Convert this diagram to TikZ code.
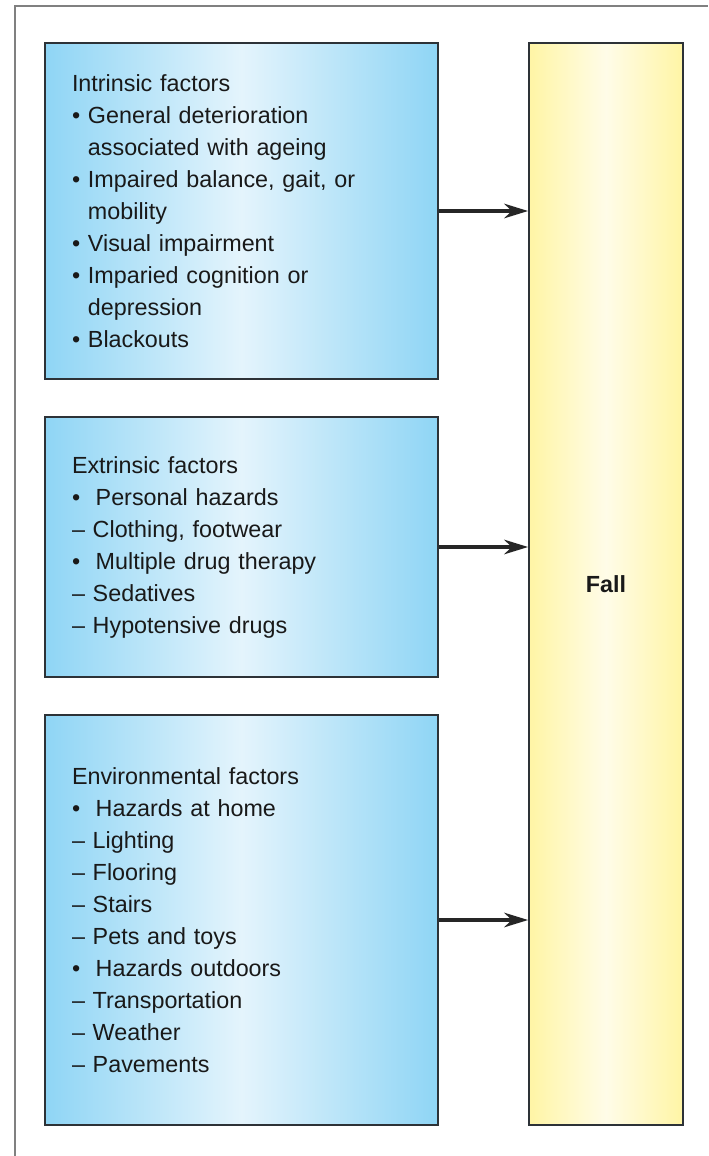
\documentclass[tikz,border=0pt]{standalone}
\usepackage{fontspec}
\setmainfont{Liberation Sans}
\usetikzlibrary{arrows.meta}
\definecolor{skyedge}{RGB}{143,213,245}
\definecolor{skymid}{RGB}{228,244,252}
\definecolor{sunedge}{RGB}{255,245,165}
\definecolor{sunmid}{RGB}{255,252,232}
\definecolor{boxline}{RGB}{45,50,55}

\begin{document}
\begin{tikzpicture}[x=0.75pt,y=-0.75pt]
    \tikzstyle{every node}=[font={\fontsize{17.5}{24}\selectfont}, text=black!90]
    \tikzstyle{factor}=[draw=boxline, line width=1.4pt, left color=skyedge, right color=skyedge, middle color=skymid,
        inner xsep=20.25pt, text width=254.25pt, minimum width=294.75pt, align=left]
    \useasboundingbox (0,0) rectangle (708,1156);
    \draw[gray, line width=1.1pt] (15,1156) -- (15,6) -- (708,6);

    \node[factor, minimum height=252pt] (intrinsic) at (241.5,211) {Intrinsic factors\\
        • General deterioration\\
        \phantom{•} associated with ageing\\
        • Impaired balance, gait, or\\
        \phantom{•} mobility\\
        • Visual impairment\\
        • Imparied cognition or\\
        \phantom{•} depression\\
        • Blackouts};
    \node[factor, minimum height=195pt] (extrinsic) at (241.5,547) {Extrinsic factors\\
        •~ Personal hazards\\
        – Clothing, footwear\\
        •~ Multiple drug therapy\\
        – Sedatives\\
        – Hypotensive drugs};
    \node[factor, minimum height=307.5pt] (environ) at (241.5,920) {Environmental factors\\
        •~ Hazards at home\\
        – Lighting\\
        – Flooring\\
        – Stairs\\
        – Pets and toys\\
        •~ Hazards outdoors\\
        – Transportation\\
        – Weather\\
        – Pavements};
    \node[draw=boxline, line width=1.4pt, left color=sunedge, right color=sunedge, middle color=sunmid,
        minimum width=115.5pt, minimum height=811.5pt, font={\fontsize{17.5}{24}\selectfont\bfseries}] (fall) at (606,584) {Fall};

    \foreach \src in {intrinsic, extrinsic, environ}
        \draw[-{Stealth[length=18pt, width=11pt]}, line width=2.3pt, black!85] (\src.east) -- (fall.west |- \src.east);
\end{tikzpicture}
\end{document}
